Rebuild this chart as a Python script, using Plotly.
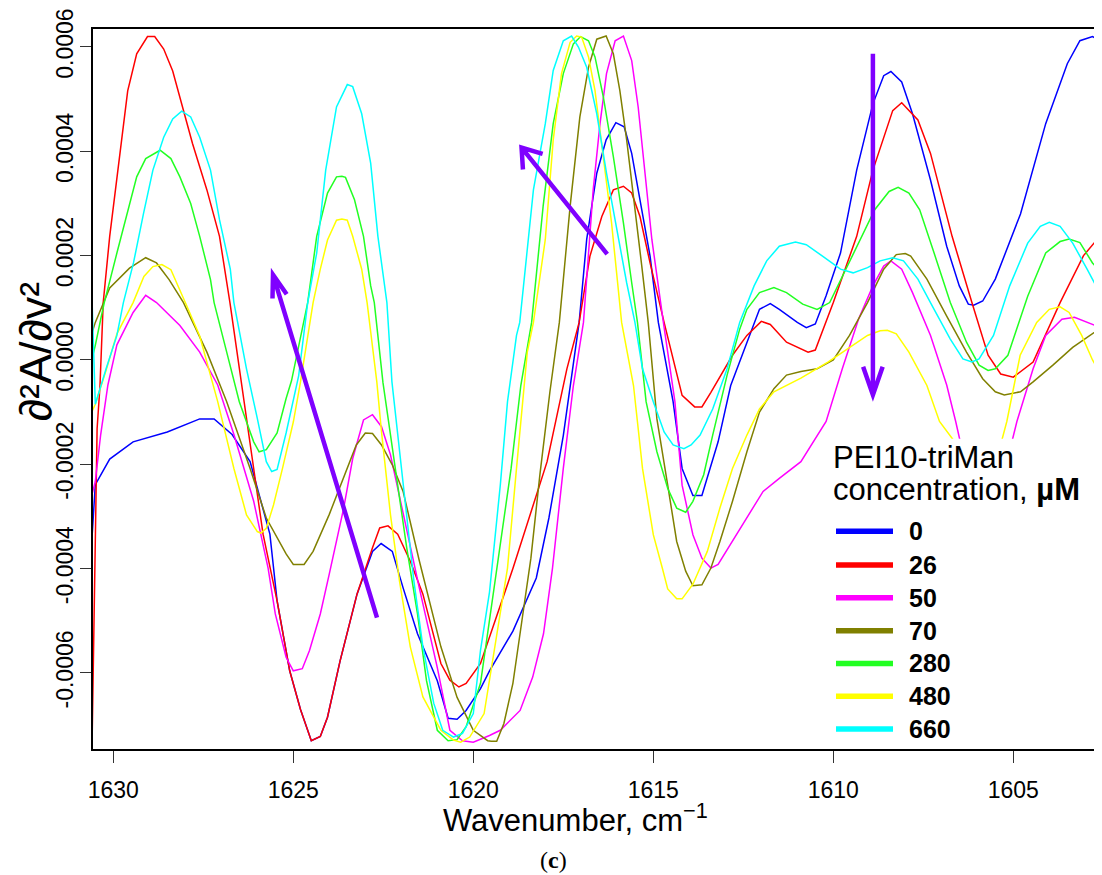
import math
import plotly.graph_objects as go

# ---------------- data (wavenumber in cm^-1, second derivative) ----------------
concentrations = ["0", "26", "50", "70", "280", "480", "660"]
line_colors = ["#0000FF", "#FF0000", "#FF00FF", "#808000", "#22FF22", "#FFFF00", "#00FFFF"]

wn_0 = [1630.60, 1630.50, 1630.10, 1629.45, 1628.50, 1627.60, 1627.20, 1626.70, 1626.20, 1625.65,
        1625.45, 1625.10, 1624.80, 1624.50, 1624.25, 1624.05, 1623.70, 1623.23, 1622.80, 1622.56,
        1622.25, 1621.95, 1621.55, 1621.00, 1620.70, 1620.45, 1620.20, 1619.80, 1619.55, 1618.90,
        1618.25, 1617.90, 1617.50, 1617.06, 1616.85, 1616.57, 1616.31, 1616.04, 1615.81, 1615.60,
        1615.37, 1615.09, 1614.86, 1614.45, 1614.20, 1613.90, 1613.65, 1613.50, 1613.20, 1612.85,
        1612.50, 1612.05, 1611.75, 1611.50, 1611.00, 1610.75, 1610.50, 1610.20, 1609.80, 1609.35,
        1608.90, 1608.60, 1608.40, 1608.10, 1607.80, 1607.30, 1606.85, 1606.50, 1606.25, 1606.10,
        1605.85, 1605.50, 1604.80, 1604.10, 1603.50, 1603.15, 1602.80, 1602.50]
d2_0 = [-3.50e-4, -2.39e-4, -1.90e-4, -1.57e-4, -1.38e-4, -1.13e-4, -1.13e-4, -1.43e-4, -1.95e-4, -3.34e-4,
        -4.62e-4, -5.96e-4, -6.70e-4, -7.30e-4, -7.22e-4, -6.85e-4, -5.77e-4, -4.49e-4, -3.67e-4, -3.52e-4,
        -3.67e-4, -4.37e-4, -5.25e-4, -6.15e-4, -6.87e-4, -6.89e-4, -6.72e-4, -6.30e-4, -5.96e-4, -5.20e-4,
        -4.18e-4, -3.03e-4, -1.45e-4, 0.72e-4, 2.31e-4, 3.58e-4, 4.22e-4, 4.55e-4, 4.47e-4, 3.96e-4,
        3.07e-4, 1.99e-4, 0.72e-4, -0.80e-4, -2.08e-4, -2.60e-4, -2.60e-4, -2.27e-4, -1.57e-4, -0.49e-4,
        0.15e-4, 0.97e-4, 1.08e-4, 0.97e-4, 0.72e-4, 0.62e-4, 0.69e-4, 1.23e-4, 2.05e-4, 3.64e-4,
        4.91e-4, 5.45e-4, 5.53e-4, 5.33e-4, 4.72e-4, 3.45e-4, 2.18e-4, 1.42e-4, 1.07e-4, 1.05e-4,
        1.13e-4, 1.55e-4, 2.80e-4, 4.53e-4, 5.68e-4, 6.12e-4, 6.20e-4, 6.08e-4]

wn_26 = [1630.60, 1630.45, 1630.37, 1630.28, 1630.10, 1629.80, 1629.60, 1629.35, 1629.05, 1628.85,
         1628.60, 1628.35, 1628.10, 1627.80, 1627.40, 1627.05, 1626.76, 1626.40, 1625.84, 1625.45,
         1625.10, 1624.80, 1624.50, 1624.25, 1624.05, 1623.70, 1623.23, 1622.80, 1622.60, 1622.37,
         1622.10, 1621.75, 1621.40, 1620.90, 1620.65, 1620.40, 1620.20, 1619.80, 1618.90, 1617.95,
         1617.40, 1617.06, 1616.76, 1616.43, 1616.11, 1615.83, 1615.60, 1615.37, 1615.09, 1614.70,
         1614.45, 1614.20, 1613.85, 1613.65, 1613.40, 1612.80, 1612.40, 1612.00, 1611.75, 1611.30,
         1610.70, 1610.50, 1610.00, 1609.35, 1608.90, 1608.35, 1608.10, 1607.65, 1607.30, 1606.70,
         1606.15, 1605.70, 1605.35, 1605.00, 1604.45, 1603.70, 1603.05, 1602.50]
d2_26 = [-7.80e-4, -1.32e-4, -0.50e-4, 1.10e-4, 2.37e-4, 4.09e-4, 5.16e-4, 5.87e-4, 6.20e-4, 6.20e-4,
         5.96e-4, 5.54e-4, 4.91e-4, 4.15e-4, 3.26e-4, 2.37e-4, 1.10e-4, -0.60e-4, -3.34e-4, -4.62e-4,
         -5.96e-4, -6.70e-4, -7.30e-4, -7.22e-4, -6.85e-4, -5.77e-4, -4.49e-4, -3.60e-4, -3.22e-4, -3.18e-4,
         -3.34e-4, -3.86e-4, -4.49e-4, -5.82e-4, -6.14e-4, -6.27e-4, -6.20e-4, -5.82e-4, -4.00e-4, -1.95e-4,
         -0.17e-4, 0.72e-4, 1.99e-4, 2.75e-4, 3.26e-4, 3.33e-4, 3.20e-4, 2.75e-4, 1.86e-4, 0.72e-4,
         0.00e-4, -0.68e-4, -0.90e-4, -0.90e-4, -0.62e-4, 0.09e-4, 0.47e-4, 0.74e-4, 0.68e-4, 0.34e-4,
         0.15e-4, 0.19e-4, 1.10e-4, 2.37e-4, 3.64e-4, 4.78e-4, 4.93e-4, 4.60e-4, 3.96e-4, 2.37e-4,
         1.10e-4, 0.09e-4, -0.27e-4, -0.33e-4, -0.04e-4, 1.10e-4, 2.00e-4, 2.45e-4]

wn_50 = [1630.60, 1630.50, 1630.35, 1630.15, 1629.90, 1629.45, 1629.10, 1628.80, 1628.15, 1627.60,
         1627.10, 1626.65, 1626.10, 1625.70, 1625.50, 1625.20, 1625.00, 1624.75, 1624.55, 1624.25,
         1624.00, 1623.60, 1623.35, 1623.05, 1622.80, 1622.55, 1622.30, 1621.95, 1621.50, 1621.00,
         1620.65, 1620.30, 1620.00, 1619.55, 1619.25, 1618.70, 1618.35, 1618.05, 1617.80, 1617.50,
         1617.22, 1616.94, 1616.67, 1616.48, 1616.30, 1616.06, 1615.83, 1615.60, 1615.42, 1615.23,
         1615.04, 1614.72, 1614.40, 1614.20, 1613.90, 1613.65, 1613.40, 1613.20, 1612.80, 1612.40,
         1611.95, 1611.50, 1610.90, 1610.20, 1609.75, 1609.30, 1608.90, 1608.60, 1608.40, 1608.10,
         1607.80, 1607.30, 1606.85, 1606.60, 1606.20, 1605.70, 1605.30, 1604.90, 1604.45, 1604.10,
         1603.65, 1603.30, 1602.95, 1602.50]
d2_50 = [-2.60e-4, -2.33e-4, -1.43e-4, -0.48e-4, 0.29e-4, 0.91e-4, 1.24e-4, 1.10e-4, 0.66e-4, 0.15e-4,
         -0.48e-4, -1.43e-4, -2.71e-4, -3.99e-4, -4.87e-4, -5.70e-4, -5.96e-4, -5.92e-4, -5.57e-4, -4.87e-4,
         -4.10e-4, -2.84e-4, -1.89e-4, -1.15e-4, -1.05e-4, -1.28e-4, -1.82e-4, -2.96e-4, -4.37e-4, -5.90e-4,
         -7.10e-4, -7.30e-4, -7.33e-4, -7.20e-4, -7.10e-4, -6.72e-4, -6.08e-4, -5.25e-4, -3.99e-4, -2.08e-4,
         -0.49e-4, 0.72e-4, 3.26e-4, 4.53e-4, 5.49e-4, 6.12e-4, 6.21e-4, 5.74e-4, 4.85e-4, 3.58e-4,
         2.31e-4, 0.72e-4, -0.80e-4, -2.40e-4, -3.35e-4, -3.80e-4, -3.99e-4, -3.92e-4, -3.48e-4, -3.03e-4,
         -2.52e-4, -2.27e-4, -1.95e-4, -1.18e-4, -0.17e-4, 0.78e-4, 1.42e-4, 1.80e-4, 1.90e-4, 1.74e-4,
         1.29e-4, 0.47e-4, -0.48e-4, -1.18e-4, -2.40e-4, -3.10e-4, -2.30e-4, -1.18e-4, -0.17e-4, 0.47e-4,
         0.78e-4, 0.82e-4, 0.72e-4, 0.60e-4]

wn_70 = [1630.60, 1630.50, 1630.10, 1629.55, 1629.10, 1628.80, 1628.45, 1628.05, 1627.40, 1626.85,
         1626.20, 1625.75, 1625.20, 1625.00, 1624.70, 1624.45, 1624.00, 1623.50, 1623.25, 1623.00,
         1622.80, 1622.55, 1622.25, 1621.95, 1621.50, 1620.90, 1620.45, 1620.00, 1619.60, 1619.50,
         1619.35, 1619.15, 1618.90, 1618.65, 1618.40, 1618.15, 1617.87, 1617.61, 1617.31, 1617.04,
         1616.80, 1616.57, 1616.31, 1616.11, 1615.93, 1615.74, 1615.51, 1615.32, 1615.14, 1614.90,
         1614.60, 1614.35, 1614.10, 1613.90, 1613.65, 1613.40, 1613.15, 1612.80, 1612.40, 1612.05,
         1611.65, 1611.30, 1610.90, 1610.45, 1610.00, 1609.55, 1609.05, 1608.60, 1608.25, 1608.00,
         1607.85, 1607.40, 1606.85, 1606.30, 1605.85, 1605.50, 1605.25, 1604.80, 1604.45, 1603.90,
         1603.35, 1602.50]
d2_70 = [0.50e-4, 0.72e-4, 1.38e-4, 1.76e-4, 1.96e-4, 1.86e-4, 1.54e-4, 1.10e-4, 0.15e-4, -0.80e-4,
         -2.08e-4, -3.03e-4, -3.72e-4, -3.92e-4, -3.92e-4, -3.67e-4, -2.96e-4, -2.08e-4, -1.63e-4, -1.40e-4,
         -1.41e-4, -1.63e-4, -2.01e-4, -2.52e-4, -3.85e-4, -5.50e-4, -6.47e-4, -7.10e-4, -7.30e-4, -7.31e-4,
         -7.31e-4, -6.97e-4, -6.20e-4, -5.00e-4, -3.80e-4, -2.20e-4, -0.60e-4, 0.72e-4, 2.95e-4, 4.66e-4,
         5.61e-4, 6.15e-4, 6.21e-4, 5.87e-4, 5.17e-4, 4.22e-4, 2.95e-4, 1.80e-4, 0.72e-4, -1.13e-4,
         -2.40e-4, -3.48e-4, -4.05e-4, -4.33e-4, -4.31e-4, -3.99e-4, -3.48e-4, -2.71e-4, -1.76e-4, -1.00e-4,
         -0.55e-4, -0.29e-4, -0.22e-4, -0.17e-4, 0.00e-4, 0.47e-4, 1.10e-4, 1.74e-4, 2.02e-4, 2.04e-4,
         1.99e-4, 1.55e-4, 0.84e-4, 0.15e-4, -0.36e-4, -0.61e-4, -0.67e-4, -0.61e-4, -0.42e-4, -0.10e-4,
         0.24e-4, 0.65e-4]

wn_280 = [1630.60, 1630.50, 1630.35, 1630.25, 1629.90, 1629.60, 1629.35, 1629.10, 1628.70, 1628.40,
          1628.15, 1627.85, 1627.60, 1627.30, 1627.20, 1626.85, 1626.50, 1626.10, 1625.95, 1625.75,
          1625.45, 1625.20, 1625.05, 1624.60, 1624.35, 1624.05, 1623.80, 1623.65, 1623.55, 1623.30,
          1623.05, 1622.85, 1622.75, 1622.51, 1622.12, 1621.85, 1621.55, 1621.30, 1621.00, 1620.70,
          1620.45, 1620.20, 1619.80, 1619.35, 1618.95, 1618.68, 1618.38, 1618.06, 1617.78, 1617.50,
          1617.22, 1617.02, 1616.80, 1616.62, 1616.39, 1616.11, 1615.83, 1615.60, 1615.44, 1615.20,
          1614.90, 1614.60, 1614.35, 1614.10, 1613.90, 1613.60, 1613.35, 1612.95, 1612.60, 1612.40,
          1612.05, 1611.65, 1611.30, 1610.85, 1610.45, 1610.10, 1609.75, 1609.30, 1608.85, 1608.45,
          1608.20, 1607.90, 1607.60, 1607.20, 1606.75, 1606.30, 1605.95, 1605.70, 1605.50, 1605.15,
          1604.60, 1604.10, 1603.70, 1603.45, 1603.15, 1602.80, 1602.50]
d2_280 = [0.00e-4, 0.28e-4, 0.78e-4, 1.10e-4, 2.05e-4, 2.87e-4, 3.51e-4, 3.86e-4, 4.02e-4, 3.86e-4,
          3.51e-4, 3.00e-4, 2.37e-4, 1.54e-4, 1.10e-4, 0.15e-4, -0.80e-4, -1.57e-4, -1.76e-4, -1.72e-4,
          -1.40e-4, -0.74e-4, -0.40e-4, 1.10e-4, 2.37e-4, 3.20e-4, 3.51e-4, 3.52e-4, 3.50e-4, 3.07e-4,
          2.37e-4, 1.42e-4, 1.10e-4, -0.43e-4, -2.33e-4, -3.60e-4, -4.87e-4, -6.15e-4, -7.10e-4, -7.30e-4,
          -7.28e-4, -7.03e-4, -6.20e-4, -4.00e-4, -2.08e-4, -0.49e-4, 0.72e-4, 2.95e-4, 4.53e-4, 5.49e-4,
          6.06e-4, 6.20e-4, 6.12e-4, 5.81e-4, 5.05e-4, 3.90e-4, 2.63e-4, 1.48e-4, 0.72e-4, -0.80e-4,
          -1.76e-4, -2.46e-4, -2.84e-4, -2.92e-4, -2.71e-4, -2.20e-4, -1.44e-4, -0.29e-4, 0.59e-4, 0.97e-4,
          1.29e-4, 1.39e-4, 1.29e-4, 1.07e-4, 0.97e-4, 1.10e-4, 1.60e-4, 2.25e-4, 2.88e-4, 3.23e-4,
          3.31e-4, 3.20e-4, 2.88e-4, 2.05e-4, 1.10e-4, 0.34e-4, -0.10e-4, -0.20e-4, -0.17e-4, 0.09e-4,
          1.22e-4, 2.05e-4, 2.27e-4, 2.32e-4, 2.25e-4, 1.86e-4, 1.62e-4]

wn_480 = [1630.60, 1630.50, 1630.20, 1629.90, 1629.45, 1629.15, 1628.90, 1628.65, 1628.40, 1628.15,
          1628.00, 1627.60, 1627.10, 1626.65, 1626.30, 1626.00, 1625.90, 1625.75, 1625.55, 1625.30,
          1625.00, 1624.80, 1624.45, 1624.25, 1624.05, 1623.80, 1623.65, 1623.50, 1623.35, 1623.10,
          1622.95, 1622.68, 1622.55, 1622.30, 1622.05, 1621.75, 1621.40, 1620.90, 1620.55, 1620.35,
          1620.10, 1619.70, 1619.35, 1619.05, 1618.80, 1618.50, 1618.33, 1618.00, 1617.78, 1617.55,
          1617.31, 1617.13, 1616.99, 1616.80, 1616.62, 1616.39, 1616.16, 1615.88, 1615.55, 1615.30,
          1615.00, 1614.75, 1614.60, 1614.35, 1614.20, 1613.90, 1613.50, 1613.15, 1612.80, 1612.40,
          1612.05, 1611.65, 1611.30, 1610.90, 1610.15, 1609.60, 1609.05, 1608.70, 1608.50, 1608.25,
          1607.90, 1607.40, 1607.05, 1606.65, 1606.10, 1605.70, 1605.40, 1605.18, 1604.81, 1604.35,
          1604.00, 1603.70, 1603.45, 1603.10, 1602.80, 1602.50]
d2_480 = [-1.00e-4, -0.85e-4, -0.20e-4, 0.50e-4, 1.10e-4, 1.60e-4, 1.79e-4, 1.83e-4, 1.73e-4, 1.35e-4,
          1.10e-4, 0.46e-4, -0.80e-4, -2.08e-4, -2.97e-4, -3.29e-4, -3.32e-4, -3.23e-4, -2.78e-4, -2.08e-4,
          -1.19e-4, -0.42e-4, 1.10e-4, 1.74e-4, 2.30e-4, 2.68e-4, 2.70e-4, 2.68e-4, 2.37e-4, 1.74e-4,
          1.10e-4, -0.42e-4, -1.38e-4, -2.97e-4, -4.24e-4, -5.50e-4, -6.46e-4, -7.10e-4, -7.29e-4, -7.33e-4,
          -7.23e-4, -6.78e-4, -5.25e-4, -3.99e-4, -2.08e-4, 0.15e-4, 0.72e-4, 2.31e-4, 4.22e-4, 5.49e-4,
          6.09e-4, 6.21e-4, 6.19e-4, 5.81e-4, 5.17e-4, 3.90e-4, 2.63e-4, 0.72e-4, -0.49e-4, -2.08e-4,
          -3.35e-4, -3.99e-4, -4.39e-4, -4.58e-4, -4.58e-4, -4.30e-4, -3.67e-4, -2.84e-4, -2.08e-4, -1.44e-4,
          -0.94e-4, -0.61e-4, -0.49e-4, -0.35e-4, -0.04e-4, 0.21e-4, 0.47e-4, 0.56e-4, 0.57e-4, 0.50e-4,
          0.15e-4, -0.49e-4, -1.18e-4, -1.55e-4, -2.10e-4, -2.20e-4, -1.75e-4, -1.18e-4, 0.09e-4, 0.72e-4,
          0.97e-4, 1.02e-4, 0.91e-4, 0.47e-4, 0.00e-4, -0.36e-4]

wn_660 = [1630.62, 1630.50, 1630.20, 1629.90, 1629.72, 1629.44, 1629.16, 1628.90, 1628.60, 1628.35,
          1628.10, 1627.85, 1627.60, 1627.30, 1627.05, 1626.75, 1626.65, 1626.30, 1626.00, 1625.75,
          1625.60, 1625.45, 1625.20, 1624.85, 1624.60, 1624.35, 1624.10, 1623.80, 1623.50, 1623.35,
          1623.10, 1622.85, 1622.65, 1622.40, 1622.26, 1621.95, 1621.65, 1621.40, 1621.10, 1620.85,
          1620.55, 1620.30, 1620.00, 1619.80, 1619.55, 1619.25, 1619.05, 1618.80, 1618.71, 1618.33,
          1618.00, 1617.78, 1617.50, 1617.27, 1617.08, 1616.85, 1616.57, 1616.30, 1616.02, 1615.74,
          1615.51, 1615.30, 1615.00, 1614.70, 1614.45, 1614.15, 1613.95, 1613.70, 1613.35, 1612.95,
          1612.60, 1612.20, 1611.85, 1611.50, 1611.05, 1610.75, 1610.30, 1609.80, 1609.45, 1609.05,
          1608.70, 1608.35, 1608.05, 1607.65, 1607.20, 1606.75, 1606.40, 1606.15, 1605.95, 1605.55,
          1605.10, 1604.60, 1604.25, 1604.00, 1603.70, 1603.35, 1602.95, 1602.50]
d2_660 = [1.80e-4, -0.85e-4, -0.17e-4, 0.47e-4, 1.10e-4, 1.86e-4, 2.81e-4, 3.64e-4, 4.27e-4, 4.62e-4,
          4.77e-4, 4.66e-4, 4.27e-4, 3.64e-4, 2.69e-4, 1.74e-4, 1.10e-4, -0.17e-4, -1.12e-4, -1.95e-4,
          -2.14e-4, -2.10e-4, -1.40e-4, -0.30e-4, 1.10e-4, 2.05e-4, 3.64e-4, 4.85e-4, 5.28e-4, 5.24e-4,
          4.72e-4, 3.77e-4, 2.37e-4, 1.10e-4, -0.42e-4, -2.33e-4, -4.24e-4, -5.50e-4, -6.58e-4, -7.10e-4,
          -7.23e-4, -7.16e-4, -6.78e-4, -5.57e-4, -4.45e-4, -2.40e-4, -0.80e-4, 0.47e-4, 0.72e-4, 3.26e-4,
          4.53e-4, 5.55e-4, 6.12e-4, 6.21e-4, 6.00e-4, 5.61e-4, 4.72e-4, 3.58e-4, 2.50e-4, 1.48e-4,
          0.72e-4, -0.17e-4, -0.80e-4, -1.38e-4, -1.63e-4, -1.70e-4, -1.63e-4, -1.44e-4, -0.94e-4, -0.17e-4,
          0.72e-4, 1.42e-4, 1.90e-4, 2.18e-4, 2.26e-4, 2.21e-4, 1.99e-4, 1.74e-4, 1.67e-4, 1.77e-4,
          1.90e-4, 1.96e-4, 1.90e-4, 1.55e-4, 0.97e-4, 0.40e-4, 0.02e-4, -0.04e-4, 0.02e-4, 0.47e-4,
          1.42e-4, 2.24e-4, 2.56e-4, 2.64e-4, 2.56e-4, 2.24e-4, 1.74e-4, 1.16e-4]

series_wn = [wn_0, wn_26, wn_50, wn_70, wn_280, wn_480, wn_660]
series_d2 = [d2_0, d2_26, d2_50, d2_70, d2_280, d2_480, d2_660]

x_tick_vals = [1630, 1625, 1620, 1615, 1610, 1605]
x_tick_text = ["1630", "1625", "1620", "1615", "1610", "1605"]
y_tick_vals = [-0.0006, -0.0004, -0.0002, 0.0, 0.0002, 0.0004, 0.0006]
y_tick_text = ["-0.0006", "-0.0004", "-0.0002", "0.0000", "0.0002", "0.0004", "0.0006"]

# trend arrows: (tail wavenumber, tail value) -> (head wavenumber, head value)
arrow_tails = [(1622.675, -4.94e-4), (1616.28, 2.03e-4), (1608.90, 5.87e-4)]
arrow_heads = [(1625.564, 1.636e-4), (1618.66, 4.07e-4), (1608.90, -0.67e-4)]

# ---------------- layout geometry ----------------
PAGE_OFFSET = 8          # default body margin of the html page
W, H = 1102 - PAGE_OFFSET, 875 - PAGE_OFFSET
M_L, M_R, M_T, M_B = 93 - PAGE_OFFSET, 0, 25 - PAGE_OFFSET, 126
PLOT_W = W - M_L - M_R
PLOT_H = H - M_T - M_B
X_RANGE = [1630.564, 1602.536]
Y_RANGE = [-7.459e-4, 6.345e-4]

FONT = "Liberation Sans, Arial, sans-serif"
ARROW_COLOR = "#7F00FF"


def to_px(wn, v):
    px = (wn - X_RANGE[0]) / (X_RANGE[1] - X_RANGE[0]) * PLOT_W
    py = (Y_RANGE[1] - v) / (Y_RANGE[1] - Y_RANGE[0]) * PLOT_H
    return px, py


def to_data(px, py):
    wn = X_RANGE[0] + px / PLOT_W * (X_RANGE[1] - X_RANGE[0])
    v = Y_RANGE[1] - py / PLOT_H * (Y_RANGE[1] - Y_RANGE[0])
    return wn, v


def arrow_path(tail, head, length, half_angle_deg):
    tx, ty = to_px(*tail)
    hx, hy = to_px(*head)
    ang = math.atan2(ty - hy, tx - hx)
    ha = math.radians(half_angle_deg)
    b1 = to_data(hx + length * math.cos(ang + ha), hy + length * math.sin(ang + ha))
    b2 = to_data(hx + length * math.cos(ang - ha), hy + length * math.sin(ang - ha))
    return (f"M {tail[0]},{tail[1]} L {head[0]},{head[1]} "
            f"M {b1[0]},{b1[1]} L {head[0]},{head[1]} L {b2[0]},{b2[1]}")


def px_to_paper(px, py):
    """Screen pixel (page coordinates) -> paper coordinates."""
    fx = px - PAGE_OFFSET
    fy = py - PAGE_OFFSET
    return (fx - M_L) / PLOT_W, (M_T + PLOT_H - fy) / PLOT_H


fig = go.Figure()
for name, color, xs, ys in zip(concentrations, line_colors, series_wn, series_d2):
    fig.add_trace(go.Scatter(x=xs, y=ys, mode="lines", name=name,
                             line=dict(color=color, width=1.5), showlegend=False))

shapes = []
annotations = []

# trend arrows
arrow_style = [(24, 18), (22, 35), (30, 19)]
for tail, head, (ln, ang) in zip(arrow_tails, arrow_heads, arrow_style):
    shapes.append(dict(type="path", xref="x", yref="y", path=arrow_path(tail, head, ln, ang),
                       line=dict(color=ARROW_COLOR, width=4.5), layer="above"))

# legend (white panel, title, swatches, labels)
x0, y0 = px_to_paper(825, 437)
x1, y1 = px_to_paper(1102, 747)
shapes.append(dict(type="rect", xref="paper", yref="paper", x0=x0, x1=x1, y0=y1, y1=y0,
                   fillcolor="white", line=dict(width=0), layer="above"))

tx, ty = px_to_paper(831, 456)
annotations.append(dict(xref="paper", yref="paper", x=tx, y=ty, xanchor="left", yanchor="middle",
                        text="PEI10-triMan", showarrow=False,
                        font=dict(family=FONT, size=31, color="black")))
tx, ty = px_to_paper(831, 488)
annotations.append(dict(xref="paper", yref="paper", x=tx, y=ty, xanchor="left", yanchor="middle",
                        text="concentration, <b>µM</b>", showarrow=False,
                        font=dict(family=FONT, size=31, color="black")))

legend_rows = [530, 564, 597, 630, 663, 696, 729]
for name, color, row in zip(concentrations, line_colors, legend_rows):
    sx0, sy = px_to_paper(836, row)
    sx1, _ = px_to_paper(893, row)
    shapes.append(dict(type="line", xref="paper", yref="paper", x0=sx0, x1=sx1, y0=sy, y1=sy,
                       line=dict(color=color, width=5.5), layer="above"))
    lx, ly = px_to_paper(907, row)
    annotations.append(dict(xref="paper", yref="paper", x=lx, y=ly, xanchor="left", yanchor="middle",
                            text=f"<b>{name}</b>", showarrow=False,
                            font=dict(family=FONT, size=25, color="black")))

# axis titles and panel label
ax_, ay_ = px_to_paper(441, 818)
annotations.append(dict(xref="paper", yref="paper", x=ax_, y=ay_, xanchor="left", yanchor="middle",
                        text="Wavenumber, cm<sup>−1</sup>", showarrow=False,
                        font=dict(family=FONT, size=31, color="black")))
ax_, ay_ = px_to_paper(35, 350)
annotations.append(dict(xref="paper", yref="paper", x=ax_, y=ay_, xanchor="center", yanchor="middle",
                        text="∂²A/∂v²", textangle=-90, showarrow=False,
                        font=dict(family=FONT, size=45, color="black")))
ax_, ay_ = px_to_paper(553, 861)
annotations.append(dict(xref="paper", yref="paper", x=ax_, y=ay_, xanchor="center", yanchor="middle",
                        text="(<b>c</b>)", showarrow=False,
                        font=dict(family="Liberation Serif, Times New Roman, serif", size=24, color="black")))

fig.update_layout(
    width=W, height=H,
    margin=dict(l=M_L, r=M_R, t=M_T, b=M_B, pad=0),
    paper_bgcolor="white", plot_bgcolor="white",
    showlegend=False,
    shapes=shapes, annotations=annotations,
    xaxis=dict(range=X_RANGE, tickmode="array", tickvals=x_tick_vals, ticktext=x_tick_text,
               showgrid=False, zeroline=False, showline=True, linecolor="black", linewidth=1.5,
               mirror=True, ticks="outside", ticklen=12, tickwidth=1, tickcolor="#333",
               ticklabelstandoff=8,
               tickfont=dict(family=FONT, size=23, color="black")),
    yaxis=dict(range=Y_RANGE, tickmode="array", tickvals=y_tick_vals, ticktext=y_tick_text,
               showgrid=False, zeroline=False, showline=True, linecolor="black", linewidth=1.5,
               mirror=False, ticks="outside", ticklen=11, tickwidth=1, tickcolor="#333",
               tickangle=-90, ticklabelstandoff=-2, ticklabeloverflow="allow",
               tickfont=dict(family=FONT, size=23, color="black")),
)

fig.write_html("out.html")
